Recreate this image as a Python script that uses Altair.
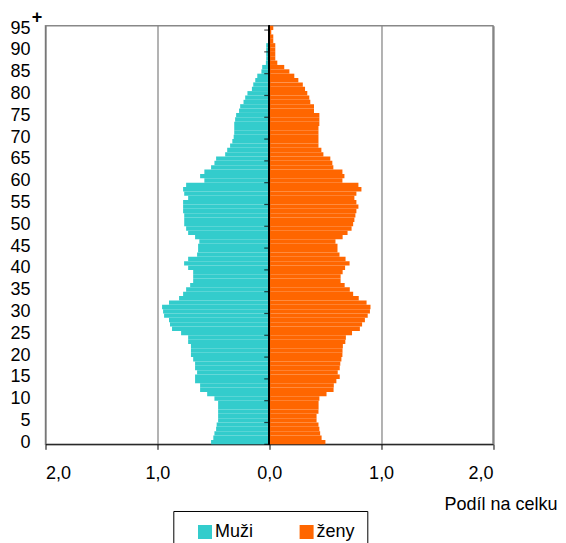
import altair as alt
import pandas as pd

ages = list(range(96))
muzi = [0.52, 0.50, 0.49, 0.475, 0.47, 0.457, 0.457, 0.457, 0.457, 0.457,
        0.49, 0.555, 0.618, 0.618, 0.663, 0.663, 0.645, 0.663, 0.663, 0.68,
        0.70, 0.70, 0.70, 0.725, 0.725, 0.788, 0.869, 0.887, 0.896, 0.94,
        0.949, 0.958, 0.896, 0.806, 0.77, 0.743, 0.707, 0.68, 0.68, 0.68,
        0.725, 0.761, 0.725, 0.645, 0.636, 0.636, 0.625, 0.663, 0.725, 0.743,
        0.76, 0.76, 0.76, 0.77, 0.77, 0.77, 0.725, 0.76, 0.77, 0.743,
        0.58, 0.618, 0.58, 0.52, 0.49, 0.475, 0.394, 0.376, 0.35, 0.33,
        0.318, 0.313, 0.313, 0.313, 0.305, 0.296, 0.27, 0.26, 0.23, 0.215,
        0.195, 0.155, 0.143, 0.125, 0.107, 0.07, 0.063, 0.03, 0.027, 0.027,
        0.027, 0.027, 0.01, 0.01, 0.008, 0.008]
zeny = [0.502, 0.468, 0.455, 0.448, 0.44, 0.423, 0.423, 0.44, 0.441, 0.441,
        0.448, 0.512, 0.575, 0.577, 0.60, 0.63, 0.612, 0.63, 0.635, 0.645,
        0.654, 0.655, 0.658, 0.68, 0.685, 0.74, 0.81, 0.83, 0.855, 0.88,
        0.90, 0.905, 0.87, 0.80, 0.75, 0.72, 0.674, 0.638, 0.638, 0.656,
        0.678, 0.718, 0.682, 0.628, 0.61, 0.61, 0.592, 0.656, 0.70, 0.736,
        0.75, 0.761, 0.77, 0.779, 0.797, 0.779, 0.761, 0.779, 0.824, 0.797,
        0.654, 0.672, 0.654, 0.573, 0.564, 0.546, 0.484, 0.466, 0.44, 0.44,
        0.44, 0.44, 0.44, 0.448, 0.448, 0.448, 0.40, 0.40, 0.367, 0.358,
        0.34, 0.32, 0.30, 0.26, 0.224, 0.18, 0.134, 0.072, 0.054, 0.054,
        0.054, 0.054, 0.036, 0.036, 0.018, 0.036]
series = ["Muži", "ženy"]
colors = ["#33CCCC", "#FF6600"]
x_ticks = [-2, -1, 0, 1, 2]
y_ticks = list(range(0, 96, 5))
x_title = "Podíl na celku"

rows = []
for a, m, z in zip(ages, muzi, zeny):
    rows.append({"age": a, "pohlavi": series[0], "v": -m})
    rows.append({"age": a, "pohlavi": series[1], "v": z})
df = pd.DataFrame(rows)
tick_df = pd.DataFrame({"t": y_ticks})

W, H = 447.5, 418.6
FONT = "Liberation Sans"

xscale = alt.Scale(domain=[-2, 2], nice=False, zero=False)
yscale = alt.Scale(domain=[0, 96], nice=False, zero=False)

x_axis = alt.Axis(
    values=x_ticks,
    labelExpr="replace(format(abs(datum.value), '.1f'), '.', ',')",
    grid=True, gridColor="#666666", gridWidth=1,
    domainColor="black", tickColor="black", tickSize=5,
    labelFontSize=18, labelPadding=15, labelOverlap=False,
    title=x_title, titleX=511.5, titleY=65.7, titleAlign="right",
    titleBaseline="alphabetic", titleFontWeight="normal", titleFontSize=18)
y_axis = alt.Axis(
    values=y_ticks, ticks=False, tickSize=0, domain=False, grid=False,
    labelFontSize=18, labelPadding=15.5, labelOffset=-2,
    labelOverlap=False, labelSeparation=0, title=None)

bars = alt.Chart(df).transform_calculate(
    zero="0", top="datum.age + 1"
).mark_rect().encode(
    x=alt.X("v:Q", scale=xscale, axis=x_axis),
    x2="zero:Q",
    y=alt.Y("age:Q", scale=yscale, axis=y_axis),
    y2="top:Q",
    color=alt.Color("pohlavi:N",
                    scale=alt.Scale(domain=series, range=colors),
                    legend=alt.Legend(
                        title=None, orient="none", legendX=127.8, legendY=485.3,
                        direction="horizontal", columns=2, symbolType="square",
                        symbolSize=196, symbolStrokeWidth=0, labelFontSize=18,
                        labelFont=FONT, padding=12, strokeColor="black",
                        fillColor="white", symbolOffset=10.7, columnPadding=33.6,
                        labelOffset=1)),
)

center = alt.Chart(tick_df).mark_rule(color="black", strokeWidth=1.2).encode(
    x=alt.X("zero:Q", scale=xscale, axis=x_axis)
).transform_calculate(zero="0")

ticks = alt.Chart(tick_df).mark_tick(
    orient="horizontal", size=5, thickness=1.2, color="black"
).transform_calculate(zero="0").encode(
    x=alt.X("zero:Q", scale=xscale, axis=x_axis),
    y=alt.Y("t:Q", scale=yscale, axis=y_axis),
    xOffset=alt.value(-2.5),
)

plus = alt.Chart(pd.DataFrame({"s": ["+"], "px": [-2], "py": [96]})).mark_text(
    font=FONT, fontSize=18, fontWeight="bold", color="black", dx=-8.5, dy=-7.7
).encode(
    x=alt.X("px:Q", scale=xscale, axis=x_axis),
    y=alt.Y("py:Q", scale=yscale, axis=y_axis),
    text="s:N",
)

chart = alt.layer(bars, center, ticks, plus).properties(
    width=W, height=H,
    autosize="none",
    padding={"left": 37.5, "top": 17.7, "right": 65, "bottom": 115},
).configure_view(
    stroke="#888888", strokeWidth=1.5
).configure_axis(
    labelFont=FONT, titleFont=FONT, labelColor="black", titleColor="black",
    labelOverlap=False
)

chart.save("out.html", embed_options={"renderer": "svg", "actions": False})
